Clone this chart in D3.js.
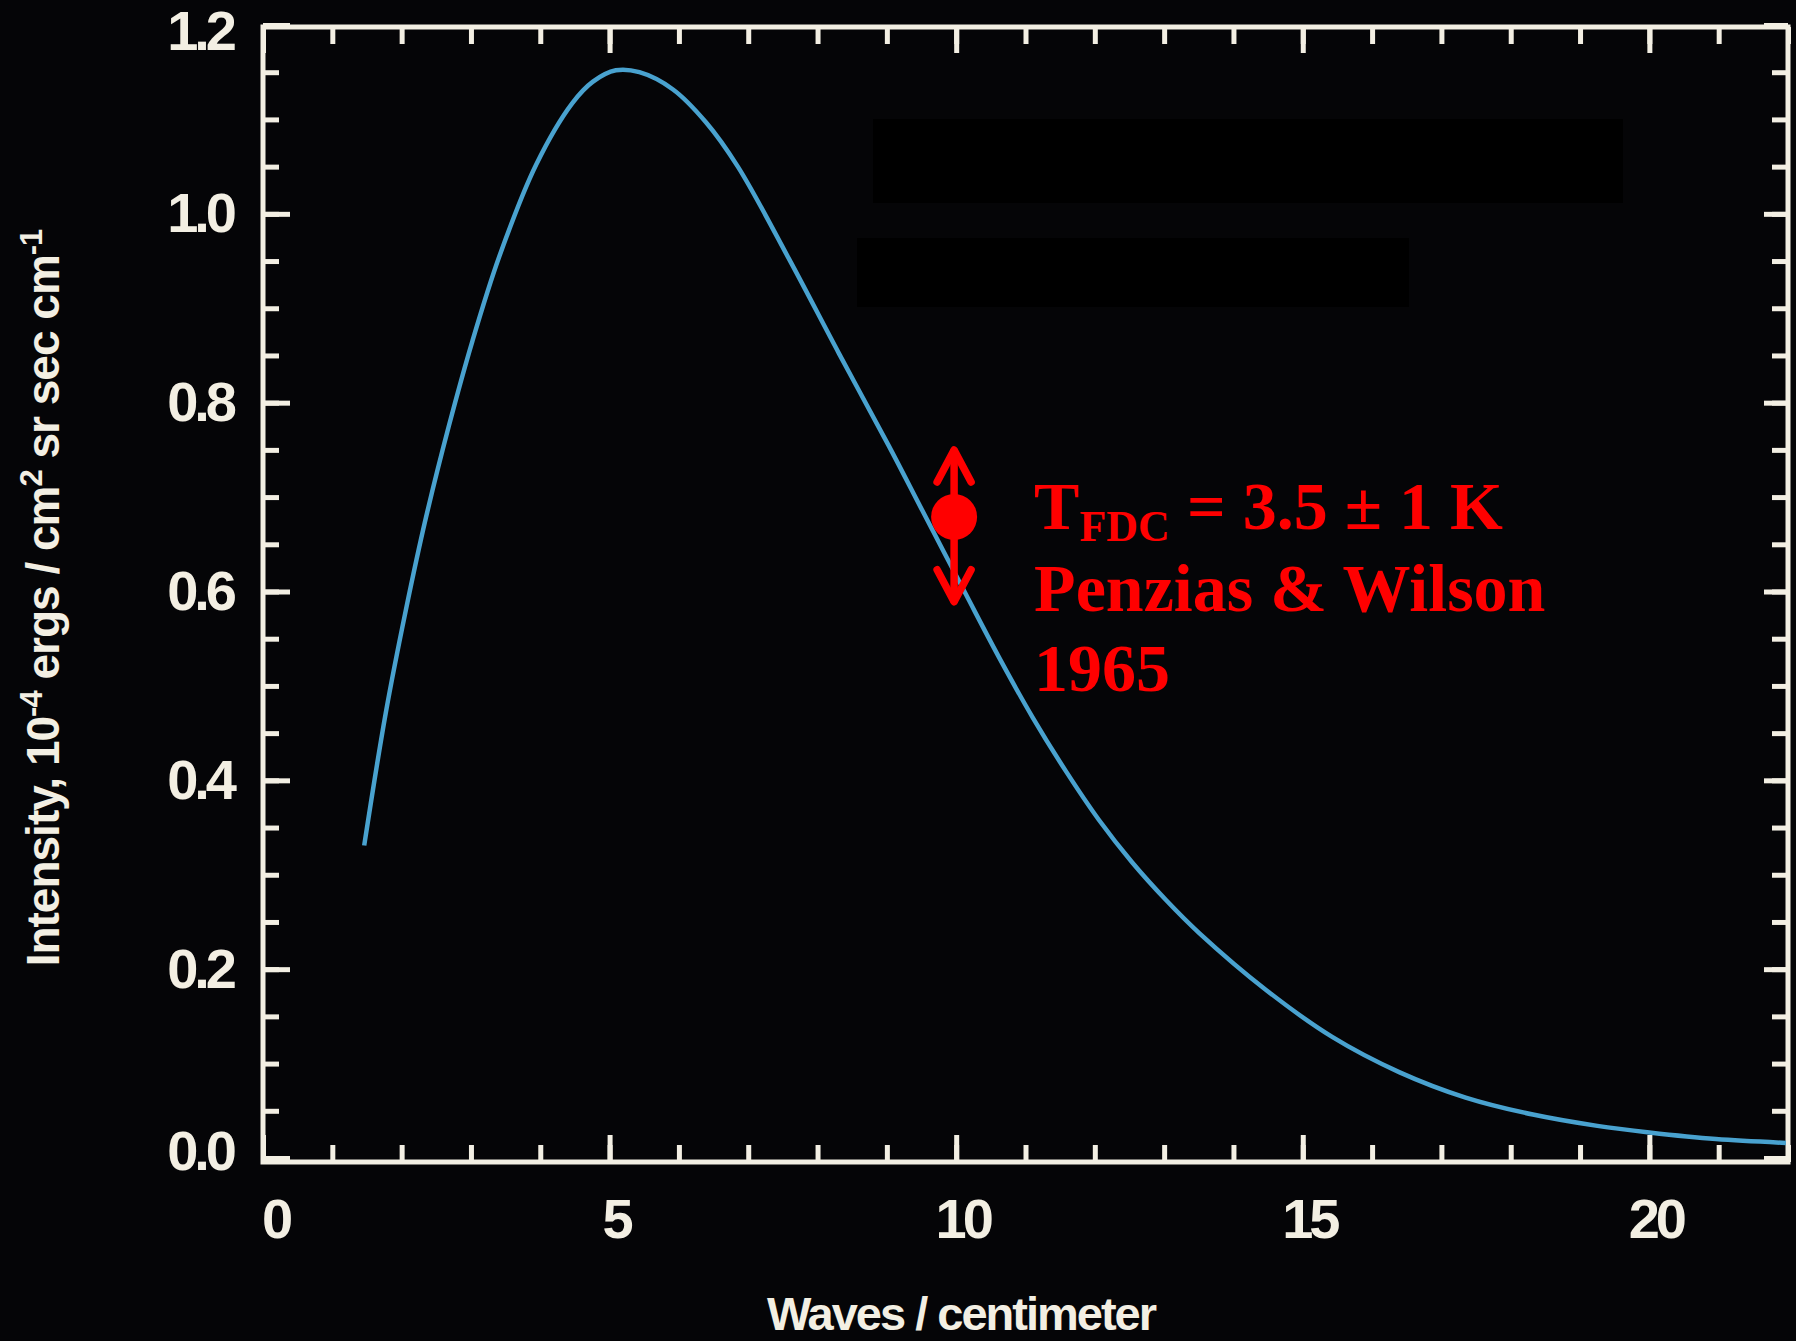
<!DOCTYPE html>
<html>
<head>
<meta charset="utf-8">
<script src="https://cdn.jsdelivr.net/npm/d3@7"></script>
<style>
    body { margin: 0; background: #050507; }
    svg { display: block; }
    .axis text { fill: #f3efe3; font-family: "Liberation Sans", Arial, Helvetica, sans-serif; font-weight: bold; font-size: 56px; letter-spacing: -4px; }
    .axis line { stroke: #f3efe3; stroke-width: 5; }
    .axis path.domain { display: none; }
</style>
</head>
<body>
<div id="chart"></div>
<script>

// wavenumber (cm^-1) and intensity
var waves = [1.46, 1.77, 2.06, 2.35, 2.68, 3.02, 3.41, 3.94, 4.46, 4.76, 5.09, 5.43, 5.91, 6.39, 6.85,
    7.59, 8.31, 9.03, 9.51, 10.14, 10.62, 11.10, 11.58, 12.06, 12.54, 13.03, 13.51, 14.47,
    15.43, 16.39, 17.35, 18.32, 19.25, 20.0, 20.96, 21.97];
var intensity = [0.331, 0.471, 0.580, 0.678, 0.775, 0.865, 0.955, 1.052, 1.117, 1.140, 1.152, 1.150, 1.132, 1.097, 1.050,
    0.952, 0.852, 0.754, 0.686, 0.597, 0.530, 0.467, 0.410, 0.358, 0.313, 0.273, 0.238, 0.178,
    0.128, 0.091, 0.064, 0.046, 0.034, 0.027, 0.020, 0.016];

// tick labels
var xTicks = [0, 5, 10, 15, 20];
var yTicks = [0, 0.2, 0.4, 0.6, 0.8, 1.0, 1.2];

// Penzias & Wilson measurement (point with up/down arrows)
var pwWave = [9.97];
var pwValue = [0.679];
var pwLow = [0.587];
var pwHigh = [0.752];
var pwLines = ["Penzias & Wilson", "1965"];

var width = 1796,
    height = 1341;

var frame = { left: 263, right: 1788, top: 27, bottom: 1162 };

var svg = d3.select("#chart")
    .append("svg")
    .attr("width", width)
    .attr("height", height);

svg.append("rect")
    .attr("width", width)
    .attr("height", height)
    .attr("fill", "#050507");

// scales
var x = d3.scaleLinear().domain([0, 22]).range([frame.left, frame.right]);
var y = d3.scaleLinear().domain([0, 1.2]).range([1158, 25]);

// the two black boxes where the original legend was blanked out
svg.append("rect").attr("x", 873).attr("y", 119).attr("width", 750).attr("height", 84).attr("fill", "#000");
svg.append("rect").attr("x", 857).attr("y", 238).attr("width", 552).attr("height", 69).attr("fill", "#000");

// minor ticks on all four sides, pointing inward
var xMinor = d3.range(0, 23, 1),
    yMinor = d3.range(0, 1.2001, 0.05);

svg.append("g").attr("class", "axis")
    .attr("transform", "translate(0," + frame.bottom + ")")
    .call(d3.axisBottom(x).tickValues(xMinor).tickSize(-17).tickFormat(""));
svg.append("g").attr("class", "axis")
    .attr("transform", "translate(0," + frame.top + ")")
    .call(d3.axisTop(x).tickValues(xMinor).tickSize(-17).tickFormat(""));
svg.append("g").attr("class", "axis")
    .attr("transform", "translate(" + frame.left + ",0)")
    .call(d3.axisLeft(y).tickValues(yMinor).tickSize(-16).tickFormat(""));
svg.append("g").attr("class", "axis")
    .attr("transform", "translate(" + frame.right + ",0)")
    .call(d3.axisRight(y).tickValues(yMinor).tickSize(-16).tickFormat(""));

// major ticks (+ labels on bottom and left)
var xAxis = svg.append("g").attr("class", "axis")
    .attr("transform", "translate(0," + frame.bottom + ")")
    .call(d3.axisBottom(x).tickValues(xTicks).tickSize(-27).tickPadding(36).tickFormat(d3.format("d")));
xAxis.selectAll("text").attr("dx", function(d) { return d === 0 ? 12 : 6; });

svg.append("g").attr("class", "axis")
    .attr("transform", "translate(0," + frame.top + ")")
    .call(d3.axisTop(x).tickValues(xTicks).tickSize(-26).tickFormat(""));

var yAxis = svg.append("g").attr("class", "axis")
    .attr("transform", "translate(" + frame.left + ",0)")
    .call(d3.axisLeft(y).tickValues(yTicks).tickSize(-27).tickPadding(30).tickFormat(d3.format(".1f")));
// top label sits a little lower than its tick, bottom one a little higher
yAxis.selectAll("text").attr("y", function(d) { return d === 1.2 ? 7 : (d === 0 ? -6 : 0); });

svg.append("g").attr("class", "axis")
    .attr("transform", "translate(" + frame.right + ",0)")
    .call(d3.axisRight(y).tickValues(yTicks).tickSize(-24).tickFormat(""));

// frame
svg.append("rect")
    .attr("x", frame.left)
    .attr("y", frame.top)
    .attr("width", frame.right - frame.left)
    .attr("height", frame.bottom - frame.top)
    .attr("fill", "none")
    .attr("stroke", "#f3efe3")
    .attr("stroke-width", 5);

// axis titles
svg.append("text")
    .attr("x", 961)
    .attr("y", 1330)
    .attr("text-anchor", "middle")
    .style("font-family", "'Liberation Sans', Arial, sans-serif")
    .style("font-weight", "bold")
    .style("font-size", "47px")
    .style("letter-spacing", "-2px")
    .attr("fill", "#f3efe3")
    .text("Waves / centimeter");

var yTitle = svg.append("text")
    .attr("transform", "translate(59,598) rotate(-90)")
    .attr("text-anchor", "middle")
    .style("font-family", "'Liberation Sans', Arial, sans-serif")
    .style("font-weight", "bold")
    .style("font-size", "46px")
    .style("letter-spacing", "-1px")
    .attr("fill", "#f3efe3");

var titleParts = [
    { t: "Intensity, 10", sup: false },
    { t: "-4", sup: true },
    { t: " ergs / cm", sup: false },
    { t: "2", sup: true },
    { t: " sr sec cm", sup: false },
    { t: "-1", sup: true }
];
var prevSup = false;
titleParts.forEach(function(p) {
    var dy = 0;
    if (p.sup && !prevSup) dy = -17;
    if (!p.sup && prevSup) dy = 17;
    yTitle.append("tspan")
        .attr("dy", dy)
        .style("font-size", p.sup ? "31px" : "46px")
        .text(p.t);
    prevSup = p.sup;
});

// the spectrum curve
var points = waves.map(function(w, i) { return [w, intensity[i]]; });

var line = d3.line()
    .x(function(d) { return x(d[0]); })
    .y(function(d) { return y(d[1]); })
    .curve(d3.curveCatmullRom.alpha(0.5));

svg.append("path")
    .datum(points)
    .attr("d", line)
    .attr("fill", "none")
    .attr("stroke", "#49a2cf")
    .attr("stroke-width", 4.5);

// Penzias & Wilson point with arrows
var red = "#ff0000";
var px = x(pwWave[0]),
    py = y(pwValue[0]),
    pTop = y(pwHigh[0]),
    pBot = y(pwLow[0]);

var pw = svg.append("g")
    .attr("stroke", red)
    .attr("stroke-width", 7.5)
    .attr("stroke-linecap", "round")
    .attr("stroke-linejoin", "round")
    .attr("fill", "none");

pw.append("line").attr("x1", px).attr("x2", px).attr("y1", pTop + 3).attr("y2", pBot - 3);
pw.append("path").attr("d", "M" + (px - 17) + "," + (pTop + 34) + "L" + px + "," + (pTop + 2) + "L" + (px + 17) + "," + (pTop + 34));
pw.append("path").attr("d", "M" + (px - 17) + "," + (pBot - 34) + "L" + px + "," + (pBot - 2) + "L" + (px + 17) + "," + (pBot - 34));

svg.append("circle")
    .attr("cx", px)
    .attr("cy", py)
    .attr("r", 23)
    .attr("fill", red);

// red note
var note = svg.append("g")
    .style("font-family", "'Liberation Serif', 'Times New Roman', serif")
    .style("font-weight", "bold")
    .attr("fill", red);

var first = note.append("text")
    .attr("x", px + 80)
    .attr("y", py + 12)
    .style("font-size", "68px");
first.append("tspan").text("T");
first.append("tspan").attr("dy", 12).style("font-size", "44px").text("FDC");
first.append("tspan").attr("dy", -12).text(" = 3.5 \u00b1 1 K");

note.selectAll("text.line")
    .data(pwLines)
    .enter()
    .append("text")
    .attr("class", "line")
    .attr("x", px + 80)
    .attr("y", function(d, i) { return py + 94 + i * 80; })
    .style("font-size", "68px")
    .text(function(d) { return d; });

</script>
</body>
</html>
